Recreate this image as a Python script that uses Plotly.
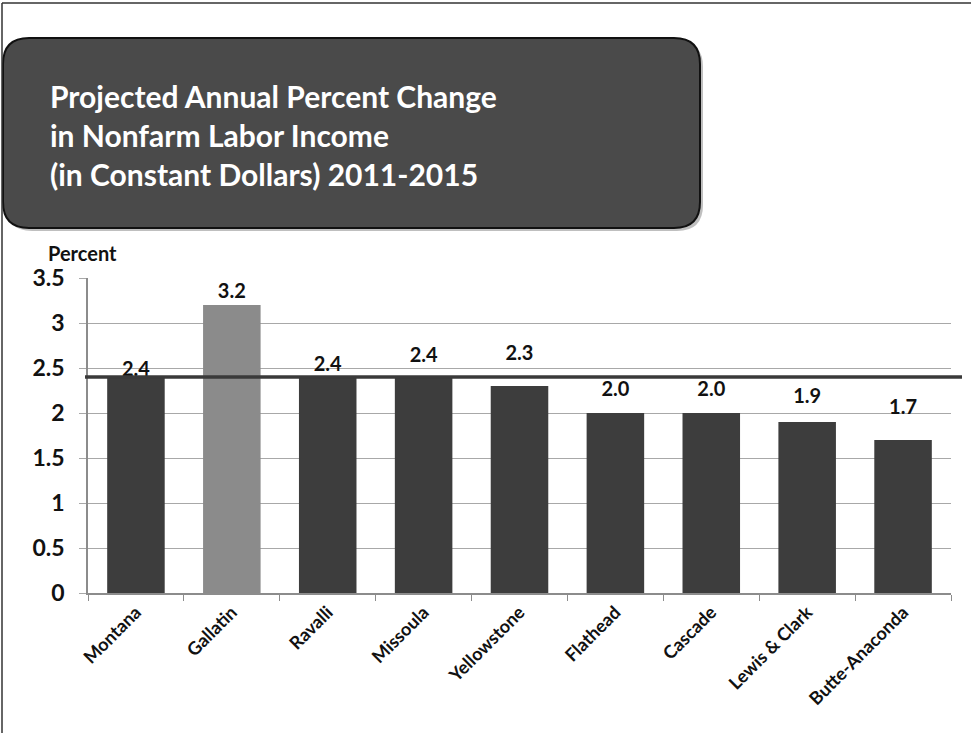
import plotly.graph_objects as go

# ---- data ----
categories = ["Montana", "Gallatin", "Ravalli", "Missoula", "Yellowstone",
              "Flathead", "Cascade", "Lewis & Clark", "Butte-Anaconda"]
values = [2.4, 3.2, 2.4, 2.4, 2.3, 2.0, 2.0, 1.9, 1.7]
value_labels = ["2.4", "3.2", "2.4", "2.4", "2.3", "2.0", "2.0", "1.9", "1.7"]
state_average = 2.4
y_ticks = [0, 0.5, 1, 1.5, 2, 2.5, 3, 3.5]

# ---- styling ----
dark = "#3d3d3d"
highlight = "#8b8b8b"
bar_colors = [highlight if c == "Gallatin" else dark for c in categories]
label_offset_px = [6, 12, 11, 20, 31, 22, 22, 24, 31]  # label centre above bar top
FONT = "Lato, 'Open Sans', sans-serif"

W, H = 971, 733
L, R, T, B = 88, 20, 278, 140
pw, ph = W - L - R, H - T - B
YMAX = 3.5


def px_x(px):
    return (px - L) / pw


def px_y(py):
    return (H - B - py) / ph


px_per_unit = ph / YMAX
label_y = [v + o / px_per_unit for v, o in zip(values, label_offset_px)]

fig = go.Figure()
fig.add_trace(go.Bar(
    x=categories, y=values, marker=dict(color=bar_colors, line=dict(width=0)),
    width=0.6, showlegend=False, hoverinfo="x+y",
))
fig.add_trace(go.Scatter(
    x=categories, y=label_y, mode="text", text=value_labels,
    textposition="middle center", cliponaxis=False,
    textfont=dict(family=FONT, size=20, color="#111111", weight="bold"),
    showlegend=False, hoverinfo="skip",
))


def rounded_rect(x0, y0, x1, y1, r):
    X0, X1 = px_x(x0), px_x(x1)
    Y0, Y1 = px_y(y0), px_y(y1)
    rx, ry = r / pw, r / ph
    return (f"M {X0+rx},{Y0} L {X1-rx},{Y0} Q {X1},{Y0} {X1},{Y0-ry} "
            f"L {X1},{Y1+ry} Q {X1},{Y1} {X1-rx},{Y1} L {X0+rx},{Y1} "
            f"Q {X0},{Y1} {X0},{Y1+ry} L {X0},{Y0-ry} Q {X0},{Y0} {X0+rx},{Y0} Z")


shapes = [
    dict(type="path", xref="paper", yref="paper", path=rounded_rect(6, 41, 703, 231, 26),
         fillcolor="rgba(0,0,0,0.25)", line=dict(width=0), layer="above"),
    dict(type="path", xref="paper", yref="paper", path=rounded_rect(3, 38, 700, 228, 26),
         fillcolor="#4a4a4a", line=dict(color="#111111", width=2), layer="above"),
    dict(type="line", xref="paper", yref="y", x0=px_x(85), x1=px_x(962),
         y0=state_average, y1=state_average, line=dict(color="#3a3a3a", width=3.5),
         layer="above"),
    dict(type="line", xref="paper", yref="paper", x0=px_x(2), x1=px_x(2),
         y0=px_y(3), y1=px_y(733), line=dict(color="#333333", width=1.5)),
    dict(type="line", xref="paper", yref="paper", x0=px_x(2), x1=px_x(971),
         y0=px_y(3), y1=px_y(3), line=dict(color="#333333", width=1.5)),
]

annotations = [
    dict(xref="paper", yref="paper", x=px_x(48), y=px_y(135), xanchor="left",
         yanchor="middle", align="left", showarrow=False,
         text="Projected Annual Percent Change<br>in Nonfarm Labor Income<br>(in Constant Dollars) 2011-2015",
         font=dict(family=FONT, size=30, color="white", weight="bold")),
    dict(xref="paper", yref="paper", x=px_x(46), y=px_y(253), xanchor="left",
         yanchor="middle", showarrow=False, text="<b>Percent</b>",
         font=dict(family=FONT, size=20, color="#111111")),
]

fig.update_layout(
    width=W, height=H,
    margin=dict(l=L, r=R, t=T, b=B, autoexpand=False),
    paper_bgcolor="white", plot_bgcolor="white",
    bargap=0.4,
    shapes=shapes, annotations=annotations,
    font=dict(family=FONT, color="#111111"),
    xaxis=dict(
        type="category", categoryorder="array", categoryarray=categories,
        showline=True, linecolor="#8c8c8c", linewidth=1.5,
        ticks="outside", tickson="boundaries", ticklen=6, tickcolor="#8c8c8c",
        tickangle=-45, showgrid=False,
        tickfont=dict(family=FONT, size=18, color="#111111", weight="bold"),
    ),
    yaxis=dict(
        range=[0, YMAX], tickvals=y_ticks, ticktext=[f"{t:g}" for t in y_ticks],
        showgrid=True, gridcolor="#a8a8a8", gridwidth=1,
        showline=True, linecolor="#8c8c8c", linewidth=1.5,
        ticks="outside", ticklen=7, tickcolor="#a8a8a8",
        ticklabelstandoff=10, zeroline=False,
        tickfont=dict(family=FONT, size=23, color="#111111", weight="bold"),
    ),
)

fig.write_html("out.html", config={"displayModeBar": False},
               post_script="document.body.style.margin='0';")
